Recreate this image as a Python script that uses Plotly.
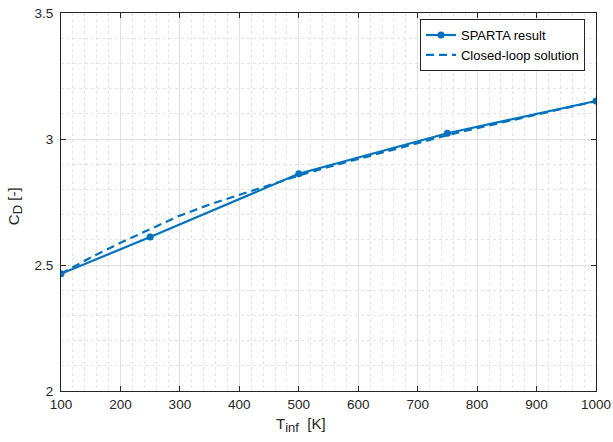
import plotly.graph_objects as go

# Data
t_sparta = [100, 250, 500, 750, 1000]
cd_sparta = [2.465, 2.611, 2.862, 3.023, 3.151]

t_closed = [100, 150, 200, 250, 300, 350, 400, 450, 500, 550, 600, 650, 700, 750, 800, 850, 900, 950, 1000]
cd_closed = [2.465, 2.530, 2.588, 2.643, 2.696, 2.740, 2.778, 2.818, 2.855, 2.889, 2.921, 2.953, 2.984, 3.015, 3.043, 3.070, 3.097, 3.124, 3.150]

blue = "#0072BD"
axc = "#262626"
font = "Liberation Sans, Arial, Helvetica, sans-serif"

fig = go.Figure()
fig.add_trace(go.Scatter(x=t_sparta, y=cd_sparta, mode="lines+markers", name="SPARTA result",
                         line=dict(color=blue, width=2.2),
                         marker=dict(symbol="circle", size=7, color=blue)))
fig.add_trace(go.Scatter(x=t_closed, y=cd_closed, mode="lines", name="Closed-loop solution",
                         line=dict(color=blue, width=2.2, dash="8px,5px")))

axis_common = dict(
    showline=True, linecolor=axc, linewidth=1, mirror="ticks",
    ticks="inside", ticklen=5, tickcolor=axc, tickwidth=1,
    showgrid=True, gridcolor="#e0e0e0", gridwidth=1,
    zeroline=False, automargin=False,
    tickfont=dict(family=font, size=13.5, color=axc),
)

fig.update_xaxes(range=[100, 1000], tickmode="linear", tick0=100, dtick=100,
                 ticklabelstandoff=1,
                 minor=dict(dtick=20, showgrid=True, gridcolor="#e3e3e3", griddash="dot", gridwidth=1, ticks=""),
                 **axis_common)
fig.update_yaxes(range=[2, 3.5], tickmode="linear", tick0=2, dtick=0.5,
                 ticklabelstandoff=4,
                 minor=dict(dtick=0.1, showgrid=True, gridcolor="#e3e3e3", griddash="dot", gridwidth=1, ticks=""),
                 **axis_common)

fig.add_annotation(text="C<sub><span style='font-size:13px'>D</span></sub> [-]", xref="paper", yref="paper",
                   x=-0.086, y=0.489,
                   xanchor="center", yanchor="middle", textangle=-90, showarrow=False,
                   font=dict(family=font, size=15, color=axc))
fig.add_annotation(text="T<sub><span style='font-size:13px'>inf</span></sub>  [K]", xref="paper", yref="paper",
                   x=0.449, y=-0.09,
                   xanchor="center", yanchor="middle", showarrow=False,
                   font=dict(family=font, size=15, color=axc))

fig.update_layout(
    width=613, height=442,
    margin=dict(l=61, r=17, t=13, b=51),
    paper_bgcolor="white", plot_bgcolor="white",
    showlegend=True,
    legend=dict(x=0.671, y=0.984, xanchor="left", yanchor="top",
                bgcolor="white", bordercolor=axc, borderwidth=1,
                font=dict(family=font, size=13, color="black"),
                itemwidth=30, tracegroupgap=0),
)

fig.write_html("out.html")
